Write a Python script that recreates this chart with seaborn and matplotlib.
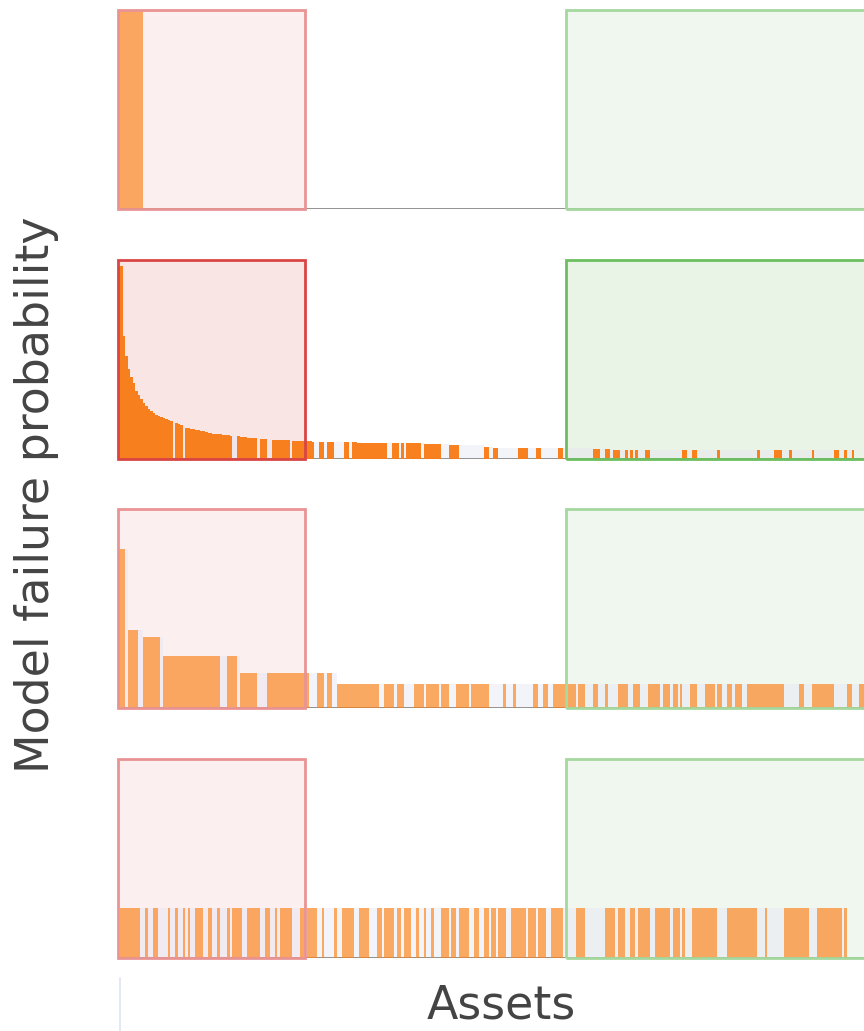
import numpy as np
import pandas as pd
import seaborn as sns
import matplotlib.pyplot as plt
from matplotlib.patches import Rectangle
from matplotlib.lines import Line2D

# ---- data ----
n_assets = 300
red_zone = (0, 74)       # assets flagged as failing
green_zone = (180, 299)  # assets flagged as healthy


def runs(*pairs):
    out = []
    for a, b in pairs:
        out.extend(range(a, b + 1))
    return out


# panel 1: perfect model
p1_assets = runs((0, 9))
p1_level = 1.0

# panel 2: sorted model scores (first assets one by one, then runs)
p2_head = [0.97, 0.97, 0.62, 0.52, 0.45, 0.41, 0.38, 0.34, 0.32, 0.30,
           0.28, 0.265, 0.25, 0.24, 0.23, 0.22, 0.215, 0.21, 0.205, 0.20,
           0.195, 0.19, 0.0, 0.18, 0.175, 0.17, 0.0, 0.158, 0.155, 0.152,
           0.15, 0.147, 0.145, 0.142, 0.14, 0.137, 0.133, 0.13, 0.128, 0.127,
           0.126, 0.125, 0.123, 0.122, 0.12, 0.118, 0.0, 0.0, 0.114, 0.112,
           0.11, 0.109, 0.108, 0.107, 0.106, 0.105, 0.0, 0.10, 0.10, 0.099,
           0.0, 0.0, 0.097, 0.096, 0.095, 0.095, 0.094, 0.094, 0.093, 0.0,
           0.092, 0.091, 0.09, 0.09, 0.089, 0.089, 0.088, 0.088, 0.087]
p2_tail_runs = [(81, 82), (84, 86), (91, 92), (94, 95), (96, 99), (100, 107),
                (110, 112), (114, 114), (116, 121), (123, 126), (127, 129),
                (133, 136), (147, 148), (151, 152), (161, 164), (168, 169),
                (177, 178), (191, 193), (196, 197), (199, 201), (204, 204),
                (206, 206), (208, 208), (212, 213), (227, 228), (231, 232),
                (241, 241), (257, 257), (264, 266), (270, 270), (279, 279),
                (288, 289), (292, 292), (295, 295)]
p2_tail_vals = [0.086, 0.085, 0.084, 0.083, 0.082, 0.081,
                0.08, 0.079, 0.078, 0.076, 0.075,
                0.072, 0.058, 0.057, 0.056, 0.055,
                0.054, 0.048, 0.048, 0.047, 0.047,
                0.047, 0.046, 0.046, 0.046, 0.046,
                0.045, 0.045, 0.045, 0.045, 0.045,
                0.045, 0.045, 0.045]

# panel 3: coarse model with a few distinct levels
p3_runs = [(0, 2), (4, 7), (10, 16), (18, 40), (44, 47), (49, 55), (60, 76),
           (80, 82), (84, 85), (88, 104), (107, 110), (112, 114), (119, 122),
           (124, 128), (130, 132), (136, 140), (142, 148), (155, 155),
           (159, 159), (167, 168), (171, 172), (175, 179), (181, 183),
           (185, 187), (191, 192), (196, 196), (201, 204), (207, 209),
           (213, 217), (219, 221), (223, 224), (226, 226), (230, 232),
           (236, 239), (241, 242), (245, 246), (248, 250), (253, 267),
           (274, 275), (279, 287), (293, 294), (298, 299)]
p3_vals = [0.80, 0.39, 0.355, 0.26, 0.26, 0.177, 0.177,
           0.177, 0.177, 0.12, 0.12, 0.12, 0.12,
           0.12, 0.12, 0.12, 0.12, 0.12,
           0.12, 0.12, 0.12, 0.12, 0.12,
           0.12, 0.12, 0.12, 0.12, 0.12,
           0.12, 0.12, 0.12, 0.12, 0.12,
           0.12, 0.12, 0.12, 0.12, 0.12,
           0.12, 0.12, 0.12, 0.12]

# panel 4: uninformative model, same score everywhere
p4_assets = runs((1, 8), (11, 11), (14, 15), (20, 20), (23, 23), (26, 26),
                 (28, 28), (31, 33), (36, 37), (40, 40), (44, 44), (46, 49),
                 (52, 56), (59, 60), (63, 63), (65, 69), (73, 74), (76, 79),
                 (82, 82), (87, 87), (90, 94), (97, 100), (104, 105),
                 (107, 110), (112, 113), (115, 117), (120, 120), (123, 123),
                 (126, 126), (130, 132), (134, 135), (137, 140), (143, 144),
                 (147, 148), (150, 151), (153, 155), (158, 163), (165, 167),
                 (169, 171), (174, 178), (184, 187), (196, 199), (201, 203),
                 (206, 207), (209, 213), (216, 221), (223, 225), (227, 227),
                 (231, 240), (245, 256), (260, 260), (268, 277), (281, 290),
                 (292, 292))
p4_level = 0.25

# ---- build per-panel score arrays ----
s1 = np.zeros(n_assets)
s1[p1_assets] = p1_level

s2 = np.zeros(n_assets)
s2[:len(p2_head)] = p2_head
for (a, b), v in zip(p2_tail_runs, p2_tail_vals):
    s2[a:b + 1] = v

s3 = np.zeros(n_assets)
for (a, b), v in zip(p3_runs, p3_vals):
    s3[a:b + 1] = v

s4 = np.zeros(n_assets)
s4[p4_assets] = p4_level

panels = [s1, s2, s3, s4]
highlight = [False, True, False, False]


def envelope(s):
    # forward-fill of the scores up to the last scored asset
    env = pd.Series(np.where(s > 0, s, np.nan)).ffill().fillna(0).values
    last = np.nonzero(s)[0].max()
    env[last + 1:] = 0
    return env


# ---- figure ----
sns.set_style('white')
fig = plt.figure(figsize=(8.64, 10.31), dpi=100)

bottoms = [0.7973, 0.5548, 0.3133, 0.0708]
height = 0.193
left = 118 / 864

for s, hl, b in zip(panels, highlight, bottoms):
    ax = fig.add_axes([left, b, 1 - left, height])
    df = pd.DataFrame({'asset': np.arange(n_assets), 'score': s})

    if hl:
        red_fc, red_ec, grn_fc, grn_ec = '#fae5e5', '#d94545', '#eaf4e6', '#6cbf60'
        bar_color, bar_alpha = '#f97a12', 0.95
    else:
        red_fc, red_ec, grn_fc, grn_ec = '#fcefef', '#e99494', '#f0f7ee', '#a5d89f'
        bar_color, bar_alpha = '#ff7f0e', 0.64

    # zone backgrounds
    ax.add_patch(Rectangle((red_zone[0] - 0.5, 0), red_zone[1] - red_zone[0] + 1, 1,
                           facecolor=red_fc, edgecolor='none', zorder=0))
    ax.add_patch(Rectangle((green_zone[0] - 0.5, 0), 130, 1,
                           facecolor=grn_fc, edgecolor='none', zorder=0))

    # faint band under the scores
    ax.stairs(envelope(s), np.arange(n_assets + 1) - 0.5, fill=True,
              color='#e6e6f5', alpha=0.45, lw=0, zorder=1)
    ax.axhline(0, color='#8a8a8a', lw=1.3, zorder=1)

    sns.barplot(data=df, x='asset', y='score', native_scale=True, width=1,
                color=bar_color, alpha=bar_alpha, linewidth=0, errorbar=None,
                saturation=1, ax=ax, zorder=2)

    # zone borders on top
    ax.add_patch(Rectangle((red_zone[0] - 0.5, 0), red_zone[1] - red_zone[0] + 1, 1,
                           fill=False, edgecolor=red_ec, lw=2.0, zorder=4,
                           clip_on=False))
    ax.add_patch(Rectangle((green_zone[0] - 0.5, 0), 130, 1,
                           fill=False, edgecolor=grn_ec, lw=2.0, zorder=4,
                           clip_on=False))

    ax.set_xlim(-0.5, n_assets - 0.5)
    ax.set_ylim(0, 1)
    ax.set_xlabel('')
    ax.set_ylabel('')
    ax.set_xticks([])
    ax.set_yticks([])
    sns.despine(ax=ax, left=True, bottom=True)

fig.text(0.042, 0.52, 'Model failure probability', rotation=90,
         ha='center', va='center', fontsize=33, color='#444444')
fig.text(0.58, 0.024, 'Assets', ha='center', va='center',
         fontsize=33, color='#444444')
fig.add_artist(Line2D([0.139, 0.139], [0.0, 0.051], color='#dfe4ec', lw=1.2))

plt.savefig('out.png', dpi=100)
